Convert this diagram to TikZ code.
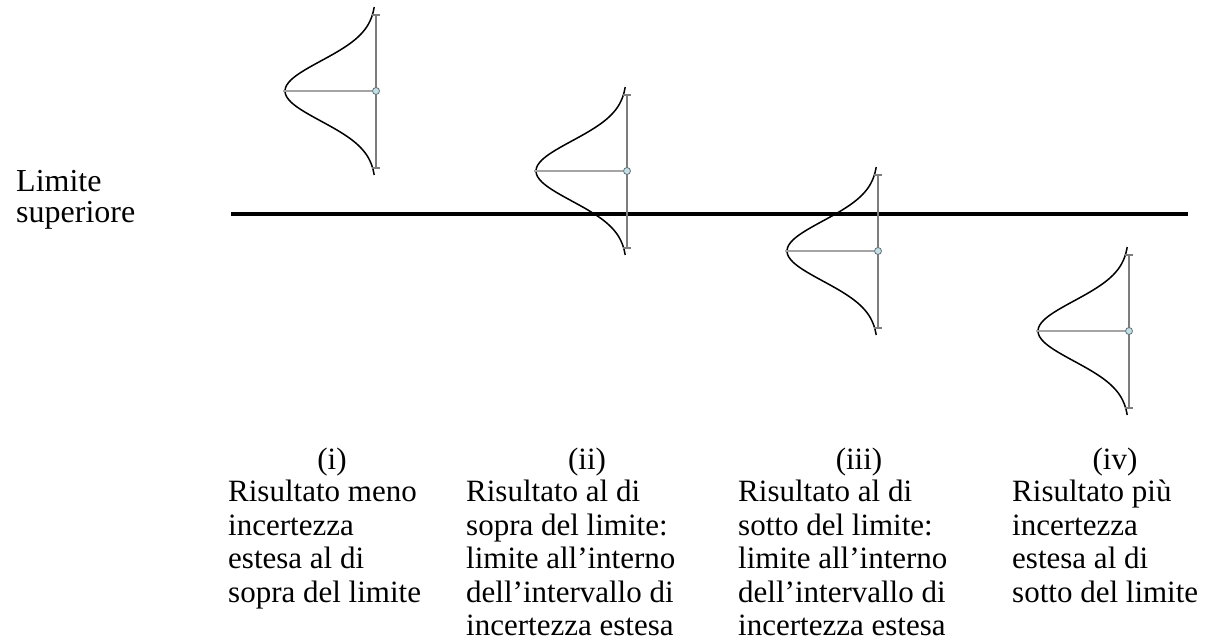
\documentclass[tikz,border=0pt]{standalone}
\usepackage{fontspec}
\setmainfont{Liberation Serif}
\definecolor{dotfill}{RGB}{196,222,226}
\definecolor{dotline}{RGB}{95,115,125}
\definecolor{bargray}{RGB}{125,125,125}
\definecolor{axisgray}{RGB}{165,165,165}

\begin{document}
\begin{tikzpicture}[x=1pt, y=-1pt,
    bell/.style={line width=1.5pt, black},
    bar/.style={line width=1.1pt, bargray},
    axis/.style={line width=1.1pt, axisgray},
    dot/.style={circle, draw=dotline, fill=dotfill, line width=0.8pt, inner sep=0pt, minimum size=7pt},
    limit/.style={line width=4pt, black},
    txt/.style={inner sep=0pt, font=\fontsize{31}{33.5}\selectfont},
    lbl/.style={txt, anchor=base},
    desc/.style={txt, anchor=north west, align=left}]
\useasboundingbox (0,0) rectangle (1205,642);

% upper limit
\node[txt, anchor=north west, align=left, font=\fontsize{32}{31}\selectfont] (lim) at (16,170) {Limite\\superiore};
\coordinate (limL) at (231,214);
\coordinate (limR) at (1188,214);
\draw[limit] (limL) -- (limR);

% the four results with their uncertainty
\foreach \cx/\cy/\n in {376/91/1, 627/171/2, 878/251/3, 1129/331/4} {
    \coordinate (top\n) at (\cx,\cy-76);
    \coordinate (bot\n) at (\cx,\cy+77);
    \coordinate (peak\n) at (\cx-93,\cy);
    \draw[bell] plot[domain=-84:84, samples=61, smooth] ({\cx-91*exp(-(\x*\x)/1800)}, {\cy+\x});
    \draw[bar] (top\n) -- (bot\n);
    \draw[bar] ([xshift=-4pt]top\n) -- ([xshift=4pt]top\n);
    \draw[bar] ([xshift=-4pt]bot\n) -- ([xshift=4pt]bot\n);
    \node[dot] (mid\n) at (\cx,\cy) {};
    \draw[axis] (peak\n) -- (mid\n);
}

% captions
\node[lbl] (l1) at (332,469) {(i)};
\node[lbl] (l2) at (587,469) {(ii)};
\node[lbl] (l3) at (859,469) {(iii)};
\node[lbl] (l4) at (1115,469) {(iv)};

\node[desc] (d1) at (228,479.8) {Risultato meno\\incertezza\\estesa al di\\sopra del limite};
\node[desc] (d2) at (466,479.8) {Risultato al di\\sopra del limite:\\limite all’interno\\dell’intervallo di\\incertezza estesa};
\node[desc] (d3) at (738,479.8) {Risultato al di\\sotto del limite:\\limite all’interno\\dell’intervallo di\\incertezza estesa};
\node[desc] (d4) at (1012,479.8) {Risultato più\\incertezza\\estesa al di\\sotto del limite};
\end{tikzpicture}
\end{document}
